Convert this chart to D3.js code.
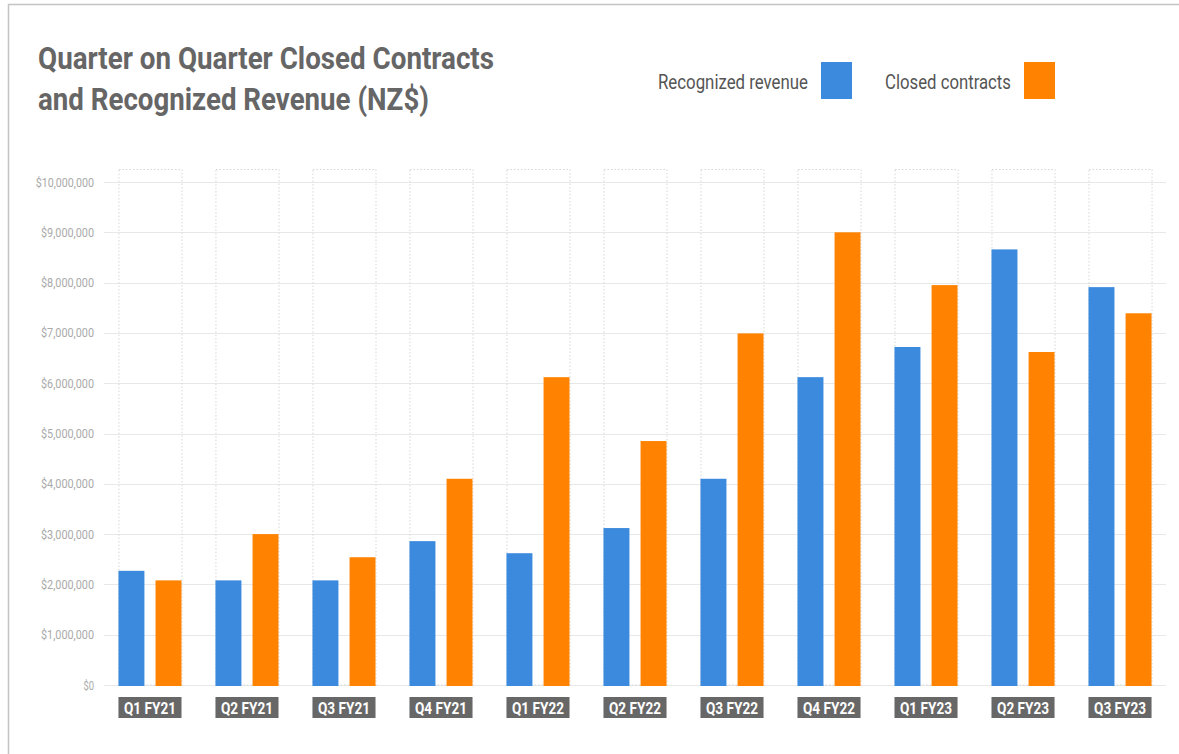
<!DOCTYPE html>
<html>
<head>
<meta charset="utf-8">
<script src="https://cdn.jsdelivr.net/npm/d3@7"></script>
<style>
  html, body { margin: 0; padding: 0; background: #fff; }
  svg { display: block; }
</style>
</head>
<body>
<div id="chart"></div>
<script>
// ---- data ----
const categories = ["Q1 FY21", "Q2 FY21", "Q3 FY21", "Q4 FY21", "Q1 FY22", "Q2 FY22",
                    "Q3 FY22", "Q4 FY22", "Q1 FY23", "Q2 FY23", "Q3 FY23"];
const recognizedRevenue = [2270000, 2080000, 2080000, 2860000, 2620000, 3120000,
                           4100000, 6120000, 6720000, 8660000, 7910000];
const closedContracts   = [2080000, 3000000, 2540000, 4100000, 6120000, 4850000,
                           6990000, 9000000, 7950000, 6620000, 7390000];
const seriesNames = ["Recognized revenue", "Closed contracts"];
const yTicks = [0, 1000000, 2000000, 3000000, 4000000, 5000000,
                6000000, 7000000, 8000000, 9000000, 10000000];
const titleLines = ["Quarter on Quarter Closed Contracts", "and Recognized Revenue (NZ$)"];

// ---- setup ----
const W = 1179, H = 754;
const colors = {"Recognized revenue": "#3b8ade", "Closed contracts": "#ff8300"};
const svg = d3.select("#chart").append("svg").attr("width", W).attr("height", H);

// card border
svg.append("path")
  .attr("d", `M8.5,${H} V4.5 H${W}`)
  .attr("fill", "none").attr("stroke", "#c4c4c4").attr("stroke-width", 1.5);

// title
const title = svg.append("g");
titleLines.forEach((t, i) => {
  title.append("text")
    .attr("x", 38).attr("y", 69 + i * 41)
    .attr("font-family", "Roboto, sans-serif").attr("font-weight", 700)
    .attr("font-size", 32).attr("fill", "#666")
    .attr("textLength", i === 0 ? 456 : 391).attr("lengthAdjust", "spacingAndGlyphs")
    .text(t);
});

// legend
const legendItems = [
  {name: seriesNames[0], textX: 658, textW: 150, boxX: 821},
  {name: seriesNames[1], textX: 885, textW: 126, boxX: 1024}
];
const legend = svg.append("g");
legendItems.forEach(d => {
  legend.append("text")
    .attr("x", d.textX).attr("y", 89)
    .attr("font-family", "Roboto, sans-serif").attr("font-size", 20).attr("fill", "#555")
    .attr("textLength", d.textW).attr("lengthAdjust", "spacingAndGlyphs")
    .text(d.name);
  legend.append("rect")
    .attr("x", d.boxX).attr("y", 62).attr("width", 31).attr("height", 37)
    .attr("fill", colors[d.name]);
});

// scales
const x0 = d3.scaleBand().domain(categories).range([104, 1166])
  .paddingInner(0.35).paddingOuter(0.149);
const x1 = d3.scaleBand().domain(seriesNames).range([0, x0.bandwidth()])
  .paddingInner(0.3).paddingOuter(0);
const y = d3.scaleLinear().domain([0, 10000000]).range([685, 182]);
const fmt = d3.format("$,");

// horizontal gridlines
svg.append("g").selectAll("line").data(yTicks).join("line")
  .attr("x1", 104).attr("x2", 1166)
  .attr("y1", d => Math.round(y(d)) + 0.5).attr("y2", d => Math.round(y(d)) + 0.5)
  .attr("stroke", "#e8e8e8").attr("stroke-width", 1.2);

// y axis labels
svg.append("g").selectAll("text").data(yTicks).join("text")
  .attr("x", 94).attr("y", d => y(d) + 4.5)
  .attr("text-anchor", "end")
  .attr("font-family", "Roboto, sans-serif").attr("font-size", 13).attr("fill", "#aaa")
  .attr("textLength", d => fmt(d).length * 5.3).attr("lengthAdjust", "spacingAndGlyphs")
  .text(d => fmt(d));

// dotted group boxes
svg.append("g").selectAll("rect").data(categories).join("rect")
  .attr("x", d => x0(d) + 0.5).attr("y", 169.5)
  .attr("width", x0.bandwidth()).attr("height", y(0) - 169.5)
  .attr("fill", "none").attr("stroke", "#d6d6d6").attr("stroke-width", 1)
  .attr("stroke-dasharray", "1.5,2");

// bars
const rows = categories.map((c, i) => ({
  cat: c,
  vals: [
    {name: seriesNames[0], value: recognizedRevenue[i]},
    {name: seriesNames[1], value: closedContracts[i]}
  ]
}));
const groups = svg.append("g").selectAll("g").data(rows).join("g")
  .attr("transform", d => `translate(${x0(d.cat)},0)`);
groups.selectAll("rect").data(d => d.vals).join("rect")
  .attr("x", d => x1(d.name)).attr("width", x1.bandwidth())
  .attr("y", d => y(d.value)).attr("height", d => y(0) - y(d.value) + 1)
  .attr("fill", d => colors[d.name]);

// category label boxes
const lab = svg.append("g").selectAll("g").data(categories).join("g")
  .attr("transform", d => `translate(${x0(d)},697)`);
lab.append("rect").attr("width", x0.bandwidth()).attr("height", 21).attr("fill", "#676767");
lab.append("text")
  .attr("x", x0.bandwidth() / 2).attr("y", 16.5)
  .attr("text-anchor", "middle")
  .attr("font-family", "Roboto, sans-serif").attr("font-weight", 700)
  .attr("font-size", 17).attr("fill", "#fff")
  .attr("textLength", 52).attr("lengthAdjust", "spacingAndGlyphs")
  .text(d => d);
</script>
</body>
</html>
